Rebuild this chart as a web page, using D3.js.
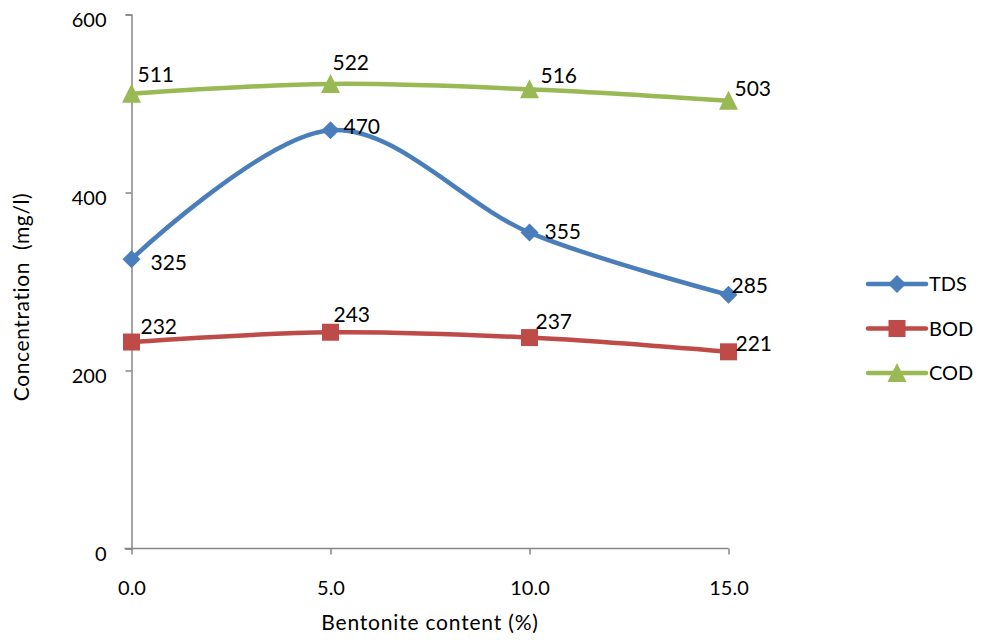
<!DOCTYPE html>
<html>
<head>
<meta charset="utf-8">
<script src="https://cdn.jsdelivr.net/npm/d3@7"></script>
<style>
  body { margin: 0; background: #fff; }
  svg text { font-family: Lato, "Open Sans", sans-serif; fill: #000; }
</style>
</head>
<body>
<svg id="chart" width="990" height="640"></svg>
<script>
// Bentonite content (%) on the x axis
const categories = ["0.0", "5.0", "10.0", "15.0"];
// Concentrations in mg/l
const tdsValues = [325, 470, 355, 285];
const bodValues = [232, 243, 237, 221];
const codValues = [511, 522, 516, 503];
const yTicks = [0, 200, 400, 600];
const seriesNames = ["TDS", "BOD", "COD"];

// label offsets (dx, dy of the text centre from its point)
const series = [
  { name: seriesNames[0], values: tdsValues, color: "#4A7EBB", marker: "diamond",
    labelOffsets: [[19, 3], [13, -4], [15, -1], [3, -9]] },
  { name: seriesNames[1], values: bodValues, color: "#BE4B48", marker: "square",
    labelOffsets: [[9, -16], [3, -18], [6, -16], [7, -8]] },
  { name: seriesNames[2], values: codValues, color: "#98B954", marker: "triangle",
    labelOffsets: [[6, -19], [2, -21], [11, -14], [6, -12]] }
];

const svg = d3.select("#chart");
const plotLeft = 131.5, plotRight = 728.5, plotTop = 14.5, plotBottom = 548.5;

const x = d3.scalePoint().domain(categories).range([plotLeft, plotRight]);
const y = d3.scaleLinear().domain([0, 600]).range([plotBottom, plotTop]);

const axisColor = "#868686";

// y axis
const yAxis = svg.append("g").attr("transform", `translate(${plotLeft},0)`)
  .call(d3.axisLeft(y).tickValues(yTicks).tickSize(6).tickPadding(19).tickFormat(d3.format("d")));
yAxis.select(".domain").attr("stroke", axisColor).attr("stroke-width", 1.5);
yAxis.selectAll(".tick line").attr("stroke", axisColor).attr("stroke-width", 1.5);
yAxis.selectAll(".tick text").attr("font-size", 20).attr("font-family", "Lato, sans-serif")
  .attr("dy", "0.62em");

// x axis
const xAxis = svg.append("g").attr("transform", `translate(0,${plotBottom})`)
  .call(d3.axisBottom(x).tickSize(6).tickSizeOuter(0).tickPadding(26));
xAxis.select(".domain").attr("stroke", axisColor).attr("stroke-width", 1.5)
  .attr("d", `M${plotLeft - 7},0H${plotRight}`);
xAxis.selectAll(".tick line").attr("stroke", axisColor).attr("stroke-width", 1.5);
xAxis.selectAll(".tick text").attr("font-size", 20).attr("font-family", "Lato, sans-serif");

// axis titles
svg.append("text").attr("x", 430).attr("y", 630).attr("text-anchor", "middle")
  .attr("font-size", 21).attr("letter-spacing", 0.8).text("Bentonite content (%)");
svg.append("text").attr("transform", "translate(29,297) rotate(-90)")
  .attr("text-anchor", "middle").attr("font-size", 21).attr("letter-spacing", 0.6)
  .style("white-space", "pre").text("Concentration  (mg/l)");

const line = d3.line()
  .x((d, i) => x(categories[i]))
  .y(d => y(d))
  .curve(d3.curveCatmullRom.alpha(0));

function drawMarker(g, type, cx, cy, color) {
  if (type === "diamond") {
    g.append("path").attr("d", `M${cx},${cy - 9}L${cx + 9},${cy}L${cx},${cy + 9}L${cx - 9},${cy}Z`).attr("fill", color);
  } else if (type === "square") {
    g.append("rect").attr("x", cx - 8.5).attr("y", cy - 8.5).attr("width", 17).attr("height", 17).attr("fill", color);
  } else {
    g.append("path").attr("d", `M${cx},${cy - 10}L${cx + 9.5},${cy + 9}L${cx - 9.5},${cy + 9}Z`).attr("fill", color);
  }
}

series.forEach(s => {
  const g = svg.append("g");
  g.append("path").attr("d", line(s.values)).attr("fill", "none")
    .attr("stroke", s.color).attr("stroke-width", 4.5).attr("stroke-linejoin", "round");
  s.values.forEach((v, i) => drawMarker(g, s.marker, x(categories[i]), y(v), s.color));
  s.values.forEach((v, i) => {
    const [dx, dy] = s.labelOffsets[i];
    g.append("text").attr("x", x(categories[i]) + dx).attr("y", y(v) + dy)
      .attr("dy", "0.36em").attr("font-size", 21).text(v);
  });
});

// legend
const legend = svg.append("g");
series.forEach((s, i) => {
  const ly = 284 + i * 44.5;
  legend.append("line").attr("x1", 868).attr("x2", 926).attr("y1", ly).attr("y2", ly)
    .attr("stroke", s.color).attr("stroke-width", 4.5).attr("stroke-linecap", "round");
  drawMarker(legend, s.marker, 897, ly, s.color);
  legend.append("text").attr("x", 929).attr("y", ly).attr("dy", "0.36em")
    .attr("font-size", 20).text(s.name);
});
</script>
</body>
</html>
